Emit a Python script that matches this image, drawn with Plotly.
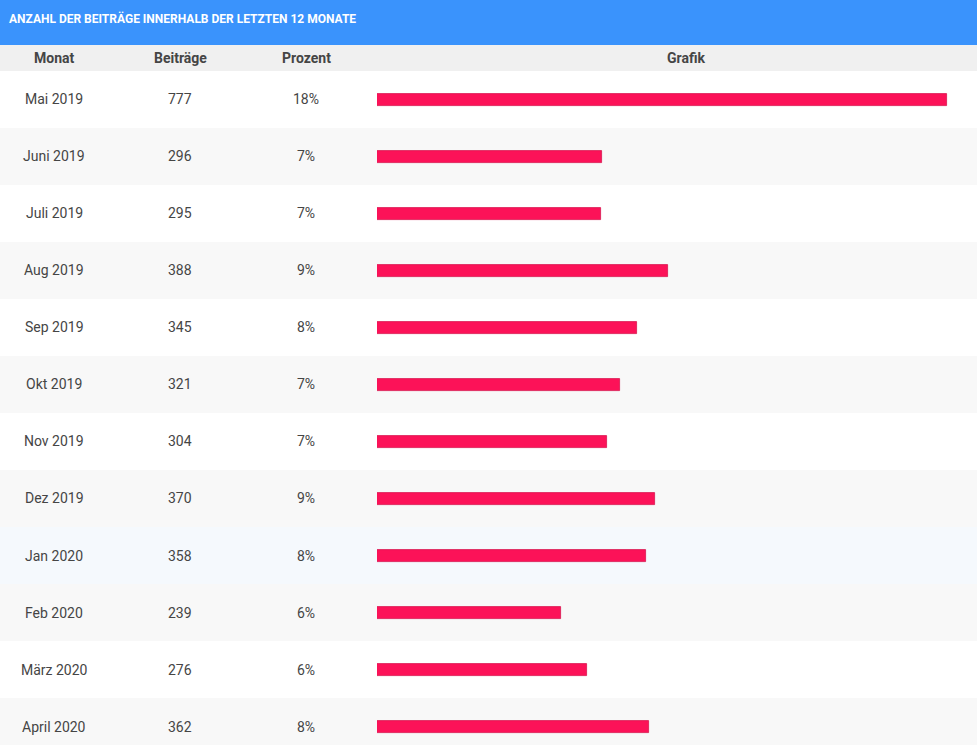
import plotly.graph_objects as go

# ---- data ----
months = ["Mai 2019", "Juni 2019", "Juli 2019", "Aug 2019", "Sep 2019", "Okt 2019",
          "Nov 2019", "Dez 2019", "Jan 2020", "Feb 2020", "März 2020", "April 2020"]
posts = [777, 296, 295, 388, 345, 321, 304, 370, 358, 239, 276, 362]
percent_labels = ["18%", "7%", "7%", "9%", "8%", "7%", "7%", "9%", "8%", "6%", "6%", "8%"]
column_headers = ["Monat", "Beiträge", "Prozent", "Grafik"]
title_text = "ANZAHL DER BEITRÄGE INNERHALB DER LETZTEN 12 MONATE"

# ---- style / layout constants ----
W, H = 977, 745
TITLE_H = 45
HEAD_H = 26
TOP = TITLE_H + HEAD_H          # first row starts here (px)
ROW_H = 57
BAR_PX_H = 12
BAR_X0 = 377                     # px where bars begin
BAR_BASE = -17                   # bars start slightly before zero (min bar length)
X_MAX = 819
COL_X = [54, 180, 306, 686]      # column centres (px)
HIGHLIGHT = "Jan 2020"

FONT = "Roboto, 'Open Sans', sans-serif"
TXT = "#454545"
BLUE = "#3a93fc"
HEAD_BG = "#f0f0f0"
ALT_BG = "#f8f8f8"
HL_BG = "#f5f9fd"
BAR_COL = "#fc1258"

n = len(months)
plot_h = H - TOP
rows_visible = plot_h / ROW_H

fig = go.Figure()
fig.add_trace(go.Bar(
    x=[v - BAR_BASE for v in posts], y=months, base=BAR_BASE, orientation="h",
    width=BAR_PX_H / ROW_H,
    marker=dict(color=BAR_COL, line=dict(color="#d8164f", width=0.8)),
    hoverinfo="skip", showlegend=False,
))

shapes = []
# title bar
shapes.append(dict(type="rect", xref="paper", yref="paper", x0=0, x1=1,
                   y0=1 - TITLE_H / H, y1=1, fillcolor=BLUE, line_width=0, layer="below"))
# header row
shapes.append(dict(type="rect", xref="paper", yref="paper", x0=0, x1=1,
                   y0=1 - TOP / H, y1=1 - TITLE_H / H, fillcolor=HEAD_BG, line_width=0, layer="below"))
# row backgrounds
for i, m in enumerate(months):
    if m == HIGHLIGHT:
        col = HL_BG
    elif i % 2 == 1:
        col = ALT_BG
    else:
        continue
    shapes.append(dict(type="rect", xref="paper", yref="y", x0=0, x1=1,
                       y0=i - 0.5, y1=i + 0.5, fillcolor=col, line_width=0, layer="below"))

ann = []
ann.append(dict(text=f"<b>{title_text}</b>", xref="paper", yref="paper",
                x=7 / W, y=1 - 18 / H, xanchor="left", yanchor="middle", showarrow=False,
                font=dict(family=FONT, size=12, color="white")))
for cx, h in zip(COL_X, column_headers):
    ann.append(dict(text=f"<b>{h}</b>", xref="paper", yref="paper",
                    x=cx / W, y=1 - (TITLE_H + HEAD_H / 2) / H, xanchor="center", yanchor="middle",
                    showarrow=False, font=dict(family=FONT, size=14, color=TXT)))
for m, v, p in zip(months, posts, percent_labels):
    for cx, t in zip(COL_X[:3], [m, str(v), p]):
        ann.append(dict(text=t, xref="paper", yref="y", x=cx / W, y=m,
                        xanchor="center", yanchor="middle", showarrow=False,
                        font=dict(family=FONT, size=14, color=TXT)))

fig.update_layout(
    width=W, height=H, margin=dict(l=0, r=0, t=0, b=0),
    paper_bgcolor="white", plot_bgcolor="rgba(0,0,0,0)",
    shapes=shapes, annotations=ann, bargap=0,
    xaxis=dict(domain=[BAR_X0 / W, 1], range=[BAR_BASE, X_MAX], visible=False, fixedrange=True),
    yaxis=dict(domain=[0, plot_h / H], range=[rows_visible - 0.5, -0.5], visible=False,
               fixedrange=True, type="category", categoryorder="array", categoryarray=months),
)

fig.write_html("out.html", config={"displayModeBar": False})
